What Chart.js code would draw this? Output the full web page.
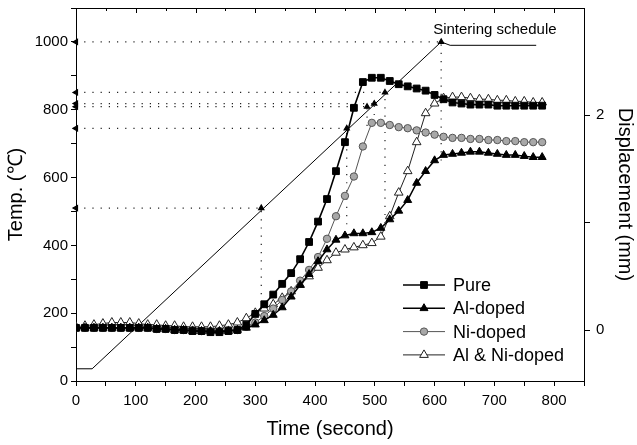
<!DOCTYPE html>
<html>
<head>
<meta charset="utf-8">
<script src="https://cdn.jsdelivr.net/npm/chart.js@4.4.1/dist/chart.umd.min.js"></script>
<style>
  html, body { margin: 0; padding: 0; background: #fff; }
  #wrap { width: 637px; height: 445px; }
</style>
</head>
<body>
<div id="wrap"><canvas id="chart" width="637" height="445"></canvas></div>
<script>
// sample times (s) shared by the four displacement curves
const timeSec = [0, 15, 30, 45, 60, 75, 90, 105, 120, 135, 150, 165, 180, 195, 210, 225, 240, 255, 270, 285,
  300, 315, 330, 345, 360, 375, 390, 405, 420, 435, 450, 465, 480, 495, 510, 525, 540, 555, 570, 585,
  600, 615, 630, 645, 660, 675, 690, 705, 720, 735, 750, 765, 780];

// displacement (mm), right axis
const pureDisp = [0.02, 0.02, 0.02, 0.02, 0.02, 0.02, 0.02, 0.02, 0.02, 0.01, 0.01, 0.00, 0.00, -0.01, -0.01, -0.02, -0.02, -0.01, 0.00, 0.05,
  0.15, 0.24, 0.33, 0.43, 0.53, 0.66, 0.82, 1.01, 1.22, 1.48, 1.75, 2.07, 2.31, 2.35, 2.35, 2.32, 2.29, 2.27, 2.25, 2.23,
  2.19, 2.15, 2.12, 2.11, 2.10, 2.10, 2.10, 2.09, 2.09, 2.09, 2.09, 2.09, 2.09];
const alDisp = [0.02, 0.02, 0.02, 0.02, 0.02, 0.02, 0.02, 0.02, 0.02, 0.01, 0.01, 0.00, 0.00, -0.01, -0.01, -0.01, -0.01, -0.01, 0.00, 0.02,
  0.05, 0.09, 0.14, 0.21, 0.31, 0.42, 0.52, 0.64, 0.75, 0.84, 0.88, 0.90, 0.90, 0.91, 0.95, 1.03, 1.11, 1.21, 1.37, 1.48,
  1.58, 1.63, 1.64, 1.65, 1.66, 1.66, 1.65, 1.64, 1.63, 1.63, 1.62, 1.61, 1.61];
const niDisp = [0.02, 0.02, 0.02, 0.02, 0.02, 0.02, 0.02, 0.02, 0.02, 0.01, 0.01, 0.00, 0.00, 0.00, -0.01, -0.01, -0.01, 0.00, 0.00, 0.03,
  0.07, 0.13, 0.20, 0.28, 0.36, 0.46, 0.56, 0.68, 0.85, 1.06, 1.25, 1.43, 1.71, 1.93, 1.93, 1.91, 1.89, 1.88, 1.86, 1.84,
  1.82, 1.80, 1.79, 1.79, 1.78, 1.78, 1.77, 1.77, 1.76, 1.76, 1.75, 1.75, 1.75];
const alNiDisp = [0.03, 0.04, 0.05, 0.06, 0.07, 0.07, 0.07, 0.06, 0.05, 0.05, 0.04, 0.04, 0.03, 0.03, 0.03, 0.03, 0.04, 0.05, 0.07, 0.11,
  0.16, 0.20, 0.24, 0.30, 0.36, 0.42, 0.50, 0.58, 0.65, 0.72, 0.75, 0.77, 0.79, 0.81, 0.87, 1.06, 1.28, 1.48, 1.75, 2.02,
  2.11, 2.16, 2.17, 2.17, 2.16, 2.15, 2.15, 2.14, 2.14, 2.13, 2.13, 2.12, 2.12];

// sintering schedule (temperature, left axis)
const scheduleTime = [0, 27, 611, 626, 770];
const scheduleTemp = [36, 36, 1000, 990, 990];

// dotted guide lines: time, temperature on the schedule, start temperature of the vertical line
const markTime = [310, 453, 487, 499, 517, 611];
const markTemp = [510, 745, 809, 818, 851, 1000];
const markFrom = [256, 462, 752, 760, 465, 650];

const seriesNames = ['Pure', 'Al-doped', 'Ni-doped', 'Al & Ni-doped'];
const xTickLabels = [0, 100, 200, 300, 400, 500, 600, 700, 800];
const yTickLabels = [0, 200, 400, 600, 800, 1000];
const y2TickLabels = [0, 2];

const FONT = 'Liberation Sans, Arial, Helvetica, sans-serif';

const seriesStyle = [
  { pointStyle: 'rect', pointRadius: 4.8, backgroundColor: '#000', borderColor: '#000', borderWidth: 1.6 },
  { pointStyle: 'triangle', pointRadius: 4.6, backgroundColor: '#000', borderColor: '#000', borderWidth: 1.5 },
  { pointStyle: 'circle', pointRadius: 3.7, backgroundColor: '#a8a8a8', borderColor: '#555', borderWidth: 1 },
  { pointStyle: 'triangle', pointRadius: 5, backgroundColor: '#fff', borderColor: '#222', borderWidth: 1 }
];
const seriesData = [pureDisp, alDisp, niDisp, alNiDisp];

const datasets = [];

seriesData.forEach((vals, i) => {
  const st = seriesStyle[i];
  datasets.push({
    label: seriesNames[i],
    yAxisID: 'y2',
    data: timeSec.map((t, k) => ({ x: t, y: vals[k] })),
    borderColor: st.borderColor,
    borderWidth: st.borderWidth,
    pointStyle: st.pointStyle,
    pointRadius: st.pointRadius,
    pointBackgroundColor: st.backgroundColor,
    pointBorderColor: st.borderColor,
    pointBorderWidth: 1,
    tension: 0,
    order: i === 0 ? 0 : 1
  });
});

datasets.push({
  label: 'schedule',
  yAxisID: 'y',
  data: scheduleTime.map((t, k) => ({ x: t, y: scheduleTemp[k] })),
  borderColor: '#000',
  borderWidth: 1,
  pointRadius: 0,
  tension: 0,
  order: 2
});

markTime.forEach((t, i) => {
  // horizontal dotted line from the temperature axis, arrow at the axis
  datasets.push({
    label: 'guide',
    yAxisID: 'y',
    data: [{ x: 0, y: markTemp[i] }, { x: t, y: markTemp[i] }],
    borderColor: '#222',
    borderWidth: 1.2,
    borderDash: [1.2, 7],
    pointRadius: [3, 0],
    pointStyle: 'triangle',
    rotation: -90,
    pointBackgroundColor: '#000',
    pointBorderColor: '#000',
    clip: false,
    order: 3
  });
  // vertical dotted line up to the schedule, arrow at the top
  datasets.push({
    label: 'guide',
    yAxisID: 'y',
    data: [{ x: t, y: markFrom[i] }, { x: t, y: markTemp[i] }],
    borderColor: '#222',
    borderWidth: 1.2,
    borderDash: [1.2, 7],
    pointRadius: [0, 3],
    pointStyle: 'triangle',
    rotation: 0,
    pointBackgroundColor: '#000',
    pointBorderColor: '#000',
    clip: false,
    order: 3
  });
});

// top frame line with inward ticks, schedule label and legend
const decorations = {
  id: 'decorations',
  afterDraw(chart) {
    const ctx = chart.ctx;
    const area = chart.chartArea;
    const xs = chart.scales.x;
    const ys = chart.scales.y;
    ctx.save();
    ctx.strokeStyle = '#000';
    ctx.lineWidth = 1;
    ctx.beginPath();
    ctx.moveTo(area.left, area.top + 0.5);
    ctx.lineTo(area.right, area.top + 0.5);
    for (let v = 0; v <= 850; v += 50) {
      const px = Math.round(xs.getPixelForValue(v)) + 0.5;
      ctx.moveTo(px, area.top);
      ctx.lineTo(px, area.top + (v % 100 === 0 ? 5 : 3));
    }
    ctx.stroke();

    ctx.fillStyle = '#000';
    ctx.font = '15px ' + FONT;
    ctx.textAlign = 'left';
    ctx.textBaseline = 'middle';
    ctx.fillText('Sintering schedule', xs.getPixelForValue(scheduleTime[2]) - 8, ys.getPixelForValue(scheduleTemp[2]) - 12);

    // legend
    const lx0 = area.right - 181;
    const lx1 = area.right - 139;
    const ly0 = area.bottom - 96;
    ctx.font = '18px ' + FONT;
    seriesNames.forEach((name, i) => {
      const st = seriesStyle[i];
      const y = ly0 + i * 23.3;
      ctx.strokeStyle = st.borderColor;
      ctx.lineWidth = st.borderWidth;
      ctx.beginPath();
      ctx.moveTo(lx0, y);
      ctx.lineTo(lx1, y);
      ctx.stroke();
      ctx.fillStyle = st.backgroundColor;
      ctx.strokeStyle = st.borderColor;
      ctx.lineWidth = 1;
      Chart.helpers.drawPoint(ctx, { pointStyle: st.pointStyle, radius: st.pointRadius, rotation: 0, borderWidth: 1 }, (lx0 + lx1) / 2, y);
      ctx.fillStyle = '#000';
      ctx.fillText(name, lx1 + 8, y + 1);
    });
    ctx.restore();
  }
};

new Chart(document.getElementById('chart'), {
  type: 'line',
  data: { datasets },
  plugins: [decorations],
  options: {
    responsive: false,
    animation: false,
    devicePixelRatio: 1,
    layout: { padding: { top: 8, left: 0, right: 0, bottom: 0 } },
    plugins: {
      legend: { display: false },
      tooltip: { enabled: false }
    },
    scales: {
      x: {
        type: 'linear',
        position: 'bottom',
        min: 0,
        max: 850,
        afterFit(s) { s.height = 64; s.paddingLeft = 0; s.paddingRight = 0; },
        ticks: {
          stepSize: 50,
          autoSkip: false,
          maxRotation: 0,
          padding: 6,
          color: '#000',
          font: { family: FONT, size: 15 },
          callback: v => xTickLabels.includes(v) ? String(v) : ''
        },
        grid: { drawOnChartArea: false, tickLength: 5, color: '#000' },
        border: { display: true, color: '#000', width: 1 },
        title: {
          display: true,
          text: 'Time (second)',
          color: '#000',
          font: { family: FONT, size: 20 },
          padding: { top: 4, bottom: 4 }
        }
      },
      y: {
        position: 'left',
        min: 0,
        max: 1100,
        afterFit(s) { s.width = 76; s.paddingTop = 0; s.paddingBottom = 0; },
        ticks: {
          stepSize: 100,
          autoSkip: false,
          padding: 3,
          color: '#000',
          font: { family: FONT, size: 15 },
          callback: v => yTickLabels.includes(v) ? String(v) : ''
        },
        grid: { drawOnChartArea: false, tickLength: 5, color: '#000' },
        border: { display: true, color: '#000', width: 1 },
        title: {
          display: true,
          text: 'Temp. (℃)',
          color: '#000',
          font: { family: FONT, size: 20 },
          padding: { top: 4, bottom: 4 }
        }
      },
      y2: {
        position: 'right',
        min: -0.475,
        max: 3.0,
        afterFit(s) { s.width = 53; s.paddingTop = 0; s.paddingBottom = 0; },
        afterBuildTicks(s) { s.ticks = [0, 1, 2].map(v => ({ value: v })); },
        ticks: {
          autoSkip: false,
          padding: 6,
          color: '#000',
          font: { family: FONT, size: 15 },
          callback: v => y2TickLabels.includes(v) ? String(v) : ''
        },
        grid: { drawOnChartArea: false, tickLength: 6, color: '#000' },
        border: { display: true, color: '#000', width: 1 },
        title: {
          display: true,
          text: 'Displacement (mm)',
          color: '#000',
          font: { family: FONT, size: 20 },
          padding: { top: 0, bottom: 4 }
        }
      }
    }
  }
});
</script>
</body>
</html>
